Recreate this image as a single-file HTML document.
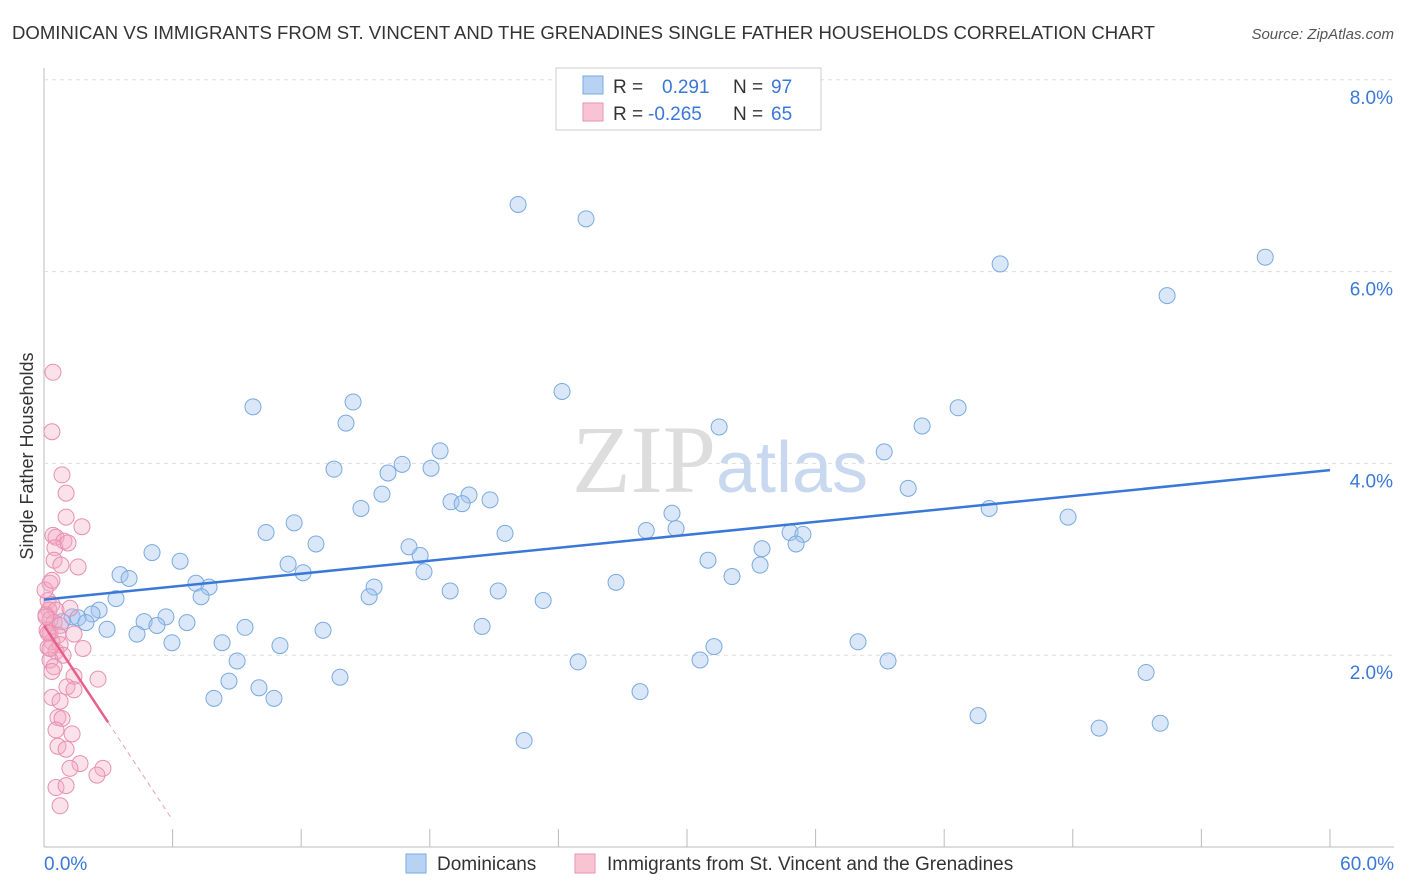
<!DOCTYPE html>
<html><head><meta charset="utf-8"><style>
body{margin:0;background:#fff;font-family:"Liberation Sans",sans-serif}
svg{display:block}
</style></head><body>
<svg id="chart" width="1406" height="892">
<text x="12" y="39" font-size="18" fill="#333" textLength="1143" lengthAdjust="spacingAndGlyphs">DOMINICAN VS IMMIGRANTS FROM ST. VINCENT AND THE GRENADINES SINGLE FATHER HOUSEHOLDS CORRELATION CHART</text>
<text x="1394" y="39" font-size="15" fill="#555" font-style="italic" text-anchor="end">Source: ZipAtlas.com</text>
<text x="33" y="456" font-size="18" fill="#333" text-anchor="middle" transform="rotate(-90 33 456)">Single Father Households</text>
<g id="grid"></g>
<text x="720" y="492" font-size="96" fill="#ddd" text-anchor="middle" font-family="Liberation Serif,serif">ZIP<tspan fill="#c8d8ee" font-family="Liberation Sans,sans-serif" font-size="72">atlas</tspan></text>
<g id="pts"></g>
<g id="lines"></g>
<g>
<rect x="556" y="68" width="265" height="62" fill="#fff" stroke="#ccc"/>
<rect x="583" y="76" width="20" height="18" fill="#b8d2f4" stroke="#7aaae0"/>
<text x="613" y="93" font-size="19" fill="#333">R =</text><text x="662" y="93" font-size="19" fill="#3a78d8">0.291</text>
<text x="733" y="93" font-size="19" fill="#333">N =</text><text x="771" y="93" font-size="19" fill="#3a78d8">97</text>
<rect x="583" y="103" width="20" height="18" fill="#f8c4d4" stroke="#e890b0"/>
<text x="613" y="120" font-size="19" fill="#333">R =</text><text x="648" y="120" font-size="19" fill="#3a78d8">-0.265</text>
<text x="733" y="120" font-size="19" fill="#333">N =</text><text x="771" y="120" font-size="19" fill="#3a78d8">65</text>
</g>
<g>
<rect x="406" y="854" width="20" height="19" fill="#b8d2f4" stroke="#7aaae0"/>
<text x="437" y="870" font-size="19" fill="#333">Dominicans</text>
<rect x="575" y="854" width="20" height="19" fill="#f8c4d4" stroke="#e890b0"/>
<text x="607" y="870" font-size="19" fill="#333">Immigrants from St. Vincent and the Grenadines</text>
</g>
</svg>
<script>
const xTicks=[0,6,12,18,24,30,36,42,48,54,60];
const yTicks=[2,4,6,8];
const blueX=[22.12,25.29,44.61,56.98,52.40,24.17,9.75,14.42,14.09,42.65,31.50,40.97,39.20,18.48,13.53,16.71,16.05,18.06,40.32,15.77,19.83,20.81,18.99,19.51,14.79,44.10,47.78,29.30,11.67,10.36,21.51,28.10,29.49,34.81,35.41,12.69,35.09,17.03,17.55,33.50,5.04,6.35,11.39,30.98,33.41,12.09,17.73,3.55,3.97,7.09,7.70,32.10,26.69,15.40,18.95,21.19,7.33,15.17,3.36,23.29,2.57,2.24,1.31,1.59,1.96,0.84,5.69,4.67,5.27,6.67,2.94,4.34,9.38,13.02,20.44,5.97,8.31,11.01,37.98,31.26,9.01,24.92,30.61,39.38,51.42,8.63,13.81,10.03,27.81,7.93,10.73,43.58,49.23,52.08,22.40];
const blueY=[6.70,6.55,6.08,6.15,5.75,4.75,4.59,4.64,4.42,4.58,4.38,4.39,4.12,4.13,3.94,3.99,3.90,3.95,3.74,3.68,3.67,3.62,3.60,3.58,3.53,3.53,3.44,3.48,3.38,3.28,3.27,3.30,3.32,3.28,3.26,3.16,3.16,3.13,3.04,3.11,3.07,2.98,2.95,2.99,2.94,2.86,2.87,2.84,2.80,2.75,2.71,2.82,2.76,2.71,2.67,2.67,2.61,2.61,2.59,2.57,2.47,2.43,2.40,2.39,2.34,2.35,2.40,2.35,2.31,2.34,2.27,2.22,2.29,2.26,2.30,2.13,2.13,2.10,2.14,2.09,1.94,1.93,1.95,1.94,1.82,1.73,1.77,1.66,1.62,1.55,1.55,1.37,1.24,1.29,1.11];
const pinkX=[0.42,0.37,0.84,1.03,1.03,1.77,0.42,0.56,0.93,0.51,1.12,0.47,0.79,1.59,0.28,0.19,0.37,0.23,0.56,1.21,0.09,0.28,0.47,0.75,0.14,0.28,0.65,1.40,0.37,0.75,0.19,1.82,0.56,0.89,0.28,0.47,0.37,1.40,2.52,1.07,1.40,0.37,0.75,0.65,0.84,0.56,1.31,0.65,1.03,1.68,1.21,2.75,2.47,0.56,1.03,0.75,0.09,0.19,0.28,0.05,0.37];
const pinkY=[4.95,4.33,3.88,3.69,3.44,3.34,3.25,3.23,3.19,3.12,3.17,2.99,2.94,2.92,2.75,2.57,2.53,2.47,2.47,2.49,2.42,2.37,2.34,2.31,2.26,2.23,2.21,2.22,2.14,2.11,2.08,2.07,2.04,2.00,1.95,1.88,1.83,1.78,1.75,1.67,1.64,1.56,1.52,1.35,1.34,1.22,1.18,1.05,1.02,0.87,0.82,0.82,0.75,0.62,0.64,0.43,2.40,2.23,2.07,2.68,2.78];
const blueLineX=[0,60], blueLineY=[2.58,3.93];
const pinkLineX=[0,2.99], pinkLineY=[2.31,1.30];
const pinkDashX=[2.99,6.0], pinkDashY=[1.30,0.28];
const sx=v=>44+v*21.433, sy=v=>847-v*95.9;
const NS='http://www.w3.org/2000/svg';
function mk(t,a,p){const e=document.createElementNS(NS,t);for(const k in a)e.setAttribute(k,a[k]);p.appendChild(e);return e;}
const grid=document.getElementById('grid');
mk('line',{x1:44,y1:68,x2:44,y2:847,stroke:'#bbb'},grid);
mk('line',{x1:44,y1:847,x2:1394,y2:847,stroke:'#bbb'},grid);
yTicks.forEach(v=>{
 const l=mk('line',{x1:44,x2:1394,y1:sy(v),y2:sy(v),stroke:'#ddd','stroke-dasharray':'4,4'},grid);
 
 
 const t=mk('text',{x:1393,y:sy(v)+24,'font-size':19,fill:'#3a78d8','text-anchor':'end'},grid);
 t.textContent=v.toFixed(1)+'%';
 
 
});
xTicks.forEach(v=>{
 const l=mk('line',{x1:sx(v),x2:sx(v),y1:829,y2:847,stroke:'#bbb'},grid);
 
 
});
[[0,'start',44],[60,'end',1394]].forEach(([v,a,x])=>{
 const t=mk('text',{x:x,y:870,'font-size':19,fill:'#3a78d8','text-anchor':a},grid);
 t.textContent=v.toFixed(1)+'%';
 
 
});
const pts=document.getElementById('pts');
blueX.forEach((x,i)=>{
 const c=mk('circle',{cx:sx(x),cy:sy(blueY[i]),r:8,fill:'rgba(160,196,240,0.4)',stroke:'#7aaae0','stroke-width':1},pts);
 
 
});
pinkX.forEach((x,i)=>{
 const c=mk('circle',{cx:sx(x),cy:sy(pinkY[i]),r:8,fill:'rgba(244,170,196,0.35)',stroke:'#e890b0','stroke-width':1},pts);
 
 
});
const lines=document.getElementById('lines');
const bl=mk('line',{x1:sx(blueLineX[0]),y1:sy(blueLineY[0]),x2:sx(blueLineX[1]),y2:sy(blueLineY[1]),stroke:'#3a78d8','stroke-width':2.5},lines);


const pl=mk('line',{x1:sx(pinkLineX[0]),y1:sy(pinkLineY[0]),x2:sx(pinkLineX[1]),y2:sy(pinkLineY[1]),stroke:'#e8608a','stroke-width':2.5},lines);


const pd=mk('line',{x1:sx(pinkDashX[0]),y1:sy(pinkDashY[0]),x2:sx(pinkDashX[1]),y2:sy(pinkDashY[1]),stroke:'#e8a0b8','stroke-width':1,'stroke-dasharray':'5,4'},lines);


</script>
</body></html>
